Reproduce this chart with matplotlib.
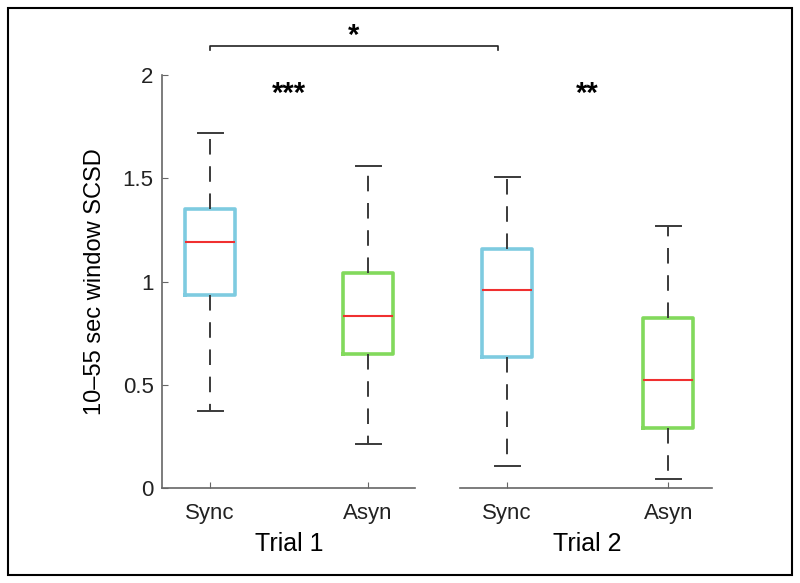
import numpy as np
import matplotlib
matplotlib.use("Agg")
import matplotlib.pyplot as plt
from matplotlib.patches import Rectangle

plt.rcParams['font.family'] = ['Liberation Sans', 'DejaVu Sans']

# box statistics
groups = ["Sync", "Asyn", "Sync", "Asyn"]
trials = ["Trial 1", "Trial 2"]
medians = [1.19, 0.833, 0.959, 0.523]
q1 = [0.935, 0.649, 0.634, 0.29]
q3 = [1.351, 1.04, 1.157, 0.823]
whislo = [0.373, 0.213, 0.107, 0.044]
whishi = [1.72, 1.56, 1.506, 1.269]
sig_within = ["***", "**"]
sig_between = "*"

positions = [1, 2, 2.88, 3.9]
box_colors = ["#7ecbe0", "#82d95c", "#7ecbe0", "#82d95c"]

stats = []
for i in range(len(groups)):
    stats.append(dict(med=medians[i], q1=q1[i], q3=q3[i],
                      whislo=whislo[i], whishi=whishi[i], fliers=[]))

fig = plt.figure(figsize=(8, 5.83), dpi=100)
ax = fig.add_axes([0.2025, 0.163, 0.6875, 0.708])

bp = ax.bxp(stats, positions=positions, widths=0.316, showfliers=False,
            patch_artist=False, manage_ticks=False)
for i, b in enumerate(bp['boxes']):
    b.set_color(box_colors[i])
    b.set_linewidth(2.6)
    b.set_solid_joinstyle('round')
for m in bp['medians']:
    m.set_color('#f03030')
    m.set_linewidth(1.5)
for w in bp['whiskers']:
    w.set_color('#3a3a3a')
    w.set_linewidth(1.4)
    w.set_dashes([8, 6])
for c in bp['caps']:
    c.set_color('#3a3a3a')
    c.set_linewidth(1.4)

ax.set_xlim(0.696, 4.177)
ax.set_ylim(0, 2)
ax.set_yticks([0, 0.5, 1, 1.5, 2])
ax.set_yticklabels(["0", "0.5", "1", "1.5", "2"])
ax.set_xticks(positions)
ax.set_xticklabels(groups)
ax.tick_params(axis='both', direction='in', length=4, color='#666666',
               labelsize=16, labelcolor='#222222')
ax.tick_params(axis='x', pad=11)
ax.tick_params(axis='y', pad=6)

for s in ['top', 'right', 'bottom']:
    ax.spines[s].set_visible(False)
ax.spines['left'].set_color('#666666')
ax.spines['left'].set_linewidth(1.2)

# broken bottom axis, one segment per trial
ax.plot([0.696, 2.297], [0, 0], color='#666666', lw=1.2, clip_on=False)
ax.plot([2.58, 4.177], [0, 0], color='#666666', lw=1.2, clip_on=False)

ax.set_ylabel("10\u201355 sec window SCSD", fontsize=17, labelpad=12)

# trial labels and within-trial significance
for j, t in enumerate(trials):
    xm = (positions[2 * j] + positions[2 * j + 1]) / 2
    ax.text(xm, -0.27, t, ha='center', va='center', fontsize=18,
            clip_on=False)
    ax.text(xm, 1.91, sig_within[j], ha='center', va='center', fontsize=21,
            fontweight='bold')

# bracket between the two Sync boxes
yb = 2.14
ax.plot([positions[0], positions[0], 2.82, 2.82], [yb - 0.02, yb, yb, yb - 0.02],
        color='#222222', lw=1.2, clip_on=False)
ax.text((positions[0] + 2.82) / 2, yb + 0.05, sig_between, ha='center',
        va='center', fontsize=21, fontweight='bold', clip_on=False)

fig.patches.append(Rectangle((0.01, 0.013), 0.98, 0.974, transform=fig.transFigure,
                             fill=False, edgecolor='black', linewidth=1.5))

fig.savefig("out.png", dpi=100)
